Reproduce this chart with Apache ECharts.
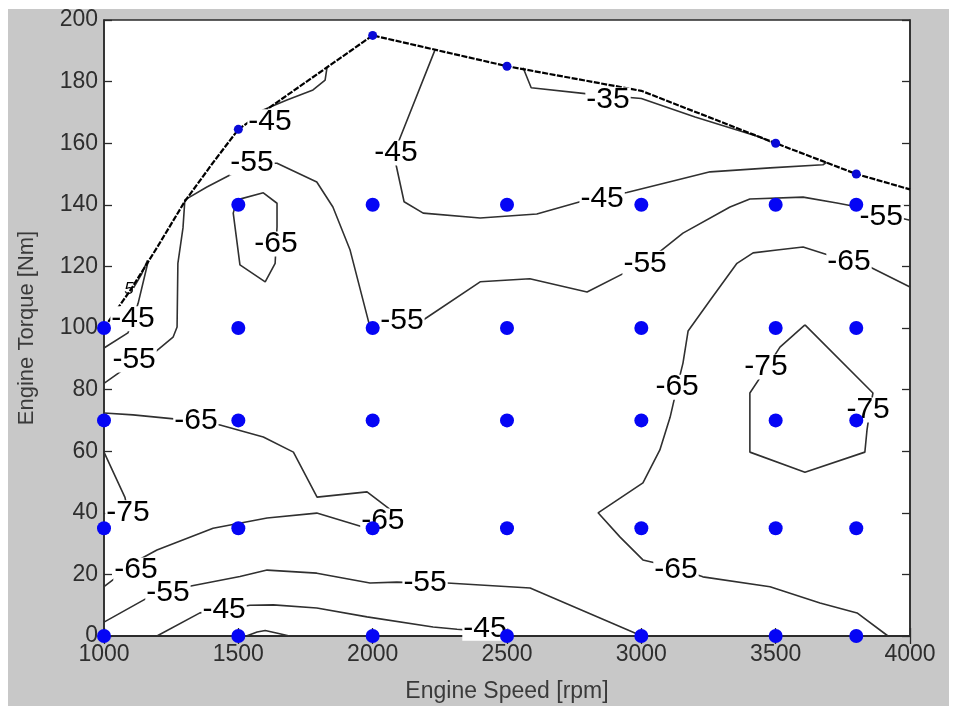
<!DOCTYPE html>
<html>
<head>
<meta charset="utf-8">
<script src="https://cdn.jsdelivr.net/npm/echarts@6/dist/echarts.min.js"></script>
<style>
  html, body { margin: 0; padding: 0; background: #ffffff; }
  #wrap { position: relative; width: 957px; height: 714px; }
  #bg { position: absolute; left: 8px; top: 9px; width: 941px; height: 697px; background: #c8c8c8; }
  #chart { position: absolute; left: 0; top: 0; width: 957px; height: 714px; }
</style>
</head>
<body>
<div id="wrap"><div id="bg"></div><div id="chart"></div></div>
<script>
// ---- axis ticks ----
const xTicks = [1000, 1500, 2000, 2500, 3000, 3500, 4000];
const yTicks = [0, 20, 40, 60, 80, 100, 120, 140, 160, 180, 200];

// ---- measurement points (rpm, torque) ----
const gridDots = [
  [1000,0],[1000,35],[1000,70],[1000,100],
  [1500,0],[1500,35],[1500,70],[1500,100],[1500,140],
  [2000,0],[2000,35],[2000,70],[2000,100],[2000,140],
  [2500,0],[2500,35],[2500,70],[2500,100],[2500,140],
  [3000,0],[3000,35],[3000,70],[3000,100],[3000,140],
  [3500,0],[3500,35],[3500,70],[3500,100],[3500,140],
  [3800,0],[3800,35],[3800,70],[3800,100],[3800,140]
];
const edgeDots = [[1500,164.5],[2000,195],[2500,185],[3500,160],[3800,150]];

// ---- full-load boundary ----
const boundary = [[1000,100],[1100,112.5],[1200,126.5],[1300,141],[1400,153],[1500,164.5],
  [2000,195],[2500,185],[3000,177],[3500,160],[3800,150],[4000,145]];

// ---- contour lines (rpm, torque) ----
const c35top = [[2560,184.5],[2590,178],[2800,176],[3000,174.5],[3200,168.5],[3440,162],[3480,160.5]];
const c45top = [[2232,190.3],[2094,160],[2087,153],[2117,141],[2188,137.3],[2400,135.7],[2611,137],
  [2772,141],[2857,142.5],[2946,144],[3107,147.5],[3256,150.7],[3479,152],[3676,153],[3690,153.8]];
const c45sliver = [[1830,184.5],[1823,180.5],[1778,177.3],[1681,174],[1592,170.8],[1550,168]];
const c45left = [[1000,93.5],[1089,98.4],[1108,103],[1127,108],[1164,121.5]];
const c35left = [[1162,122],[1140,117.5],[1110,113]];
const c55main = [[1000,82],[1097,88],[1190,92.2],[1257,97],[1272,100.3],[1275,121],[1294,132.5],
  [1301,141.6],[1383,145.8],[1469,149.7],[1555,153.5],[1644,153.5],[1792,147.4],[1852,139.3],
  [1916,125.3],[1990,100.3],[2000,100],[2110,101],[2188,102.6],[2400,115],[2585,116],[2798,111.7],
  [2958,118.8],[3014,121],[3155,130.8],[3330,139.3],[3404,141.9],[3602,142.5],[3728,140.6],
  [3806,139.3],[3900,137],[4000,135]];
const c65loop = [[1495,141.6],[1593,143.9],[1644,140.5],[1644,132.8],[1637,121],[1600,115],
  [1506,120.5],[1481,137.3],[1495,141.6]];
const c65right = [[4000,113.3],[3851,119.8],[3777,121.4],[3602,126.3],[3505,125.3],[3416,124.4],
  [3356,121],[3256,109],[3174,99],[3155,88.6],[3133,80.8],[3107,71],[3069,60.4],[3006,49.7],
  [2839,40],[2921,32.1],[3006,24.7],[3136,22],[3229,19.2],[3479,16],[3665,10.7],[3803,7.5],[3918,0]];
const c75right = [[3609,101],[3862,78.9],[3851,73.4],[3840,66.9],[3832,59.7],[3609,53.2],
  [3404,59.7],[3404,78.9],[3468,87.3],[3516,93.8],[3609,101]];
const c65left = [[1000,72.4],[1108,71.8],[1260,70.5],[1342,69.8],[1432,68.5],[1593,64.6],[1705,59.7],
  [1793,45.1],[1979,46.8],[2083,39.9],[2040,37],[1964,35.4],[1792,39.9],[1607,38.3],[1406,35],
  [1197,27.9],[1108,23.7],[1060,20],[1000,16]];
const c75left = [[1000,59.7],[1078,45],[1090,40],[1060,38.5]];
const c55bottom = [[1000,4.5],[1160,12.3],[1238,14.3],[1309,16],[1506,19.3],[1607,21.4],[1792,20.4],
  [1990,17.2],[2090,17.5],[2195,17.2],[2277,17.2],[2586,15.6],[3002,0]];
const c45bottom = [[1197,0],[1357,7.5],[1447,8.4],[1543,10],[1630,10.1],[1792,9.1],[1979,6.2],
  [2225,2.9],[2314,2.2],[2420,1.5],[2480,0]];
const cHump = [[1530,0],[1570,1.3],[1600,1.8],[1650,0.8],[1690,0]];

// ---- contour labels (rpm, torque, text) ----
const contourLabels = [
  [1618,167,'-45'],[2087,156.8,'-45'],[2876,174,'-35'],[1551,153.6,'-55'],[1640,127.3,'-65'],
  [2854,141.9,'-45'],[3893,136,'-55'],[3014,121,'-55'],[3773,121.4,'-65'],
  [1108,103,'-45'],[2109,102.3,'-55'],[1112,89.6,'-55'],[3464,87.3,'-75'],[3133,80.8,'-65'],
  [3844,73.4,'-75'],[1342,69.8,'-65'],[1089,40,'-75'],[2038,37.3,'-65'],[1119,21.4,'-65'],
  [2195,17.2,'-55'],[3129,21.4,'-65'],[1238,14,'-55'],[1447,8.4,'-45'],[2418,2.5,'-45']
];
const clippedLabels = [[1093,112.5,'5']];

const lineColor = '#303030';
const contours = [c35top, c45top, c45sliver, c45left, c35left, c55main, c65loop, c65right,
  c75right, c65left, c75left, c55bottom, c45bottom, cHump];

const font = "'Liberation Sans', Arial, sans-serif";
const chart = echarts.init(document.getElementById('chart'), null, {renderer: 'canvas'});

const series = [];
contours.forEach(function (c) {
  series.push({
    type: 'line', data: c, symbol: 'none', smooth: false, silent: true, z: 2,
    lineStyle: {color: lineColor, width: 1.6}
  });
});
series.push({
  type: 'line', data: boundary, symbol: 'none', silent: true, z: 3,
  lineStyle: {color: '#000', width: 2.2, type: [6, 1.5]}
});
series.push({
  type: 'scatter', data: contourLabels, symbolSize: 1, silent: true, z: 4,
  itemStyle: {color: 'rgba(0,0,0,0)', opacity: 1},
  label: {
    show: true, position: 'inside', formatter: function (p) { return p.data[2]; },
    fontSize: 30, fontFamily: font, color: '#000', backgroundColor: '#fff',
    textBorderWidth: 0, padding: [0, 1], lineHeight: 25
  }
});
series.push({
  type: 'scatter', data: clippedLabels, symbolSize: 1, silent: true, z: 4,
  itemStyle: {color: 'rgba(0,0,0,0)', opacity: 1},
  label: {
    show: true, position: 'inside', formatter: function (p) { return p.data[2]; },
    fontSize: 17, fontFamily: font, color: '#000', textBorderWidth: 0, fontStyle: 'italic'
  }
});
series.push({
  type: 'scatter', data: gridDots, symbolSize: 14, silent: true, z: 6,
  itemStyle: {color: '#0505f5', opacity: 1}
});
series.push({
  type: 'scatter', data: edgeDots, symbolSize: 9, silent: true, z: 6,
  itemStyle: {color: '#0a0ad8', opacity: 1}
});

const axisCommon = {
  min: 1000, max: 4000, interval: 500,
  axisLine: {lineStyle: {color: '#2a2a2a', width: 1.5}},
  axisTick: {inside: true, length: 8, lineStyle: {color: '#2a2a2a', width: 1.3}},
  splitLine: {show: false}
};

chart.setOption({
  backgroundColor: 'transparent',
  animation: false,
  grid: {left: 104, right: 47, top: 20, bottom: 78, show: true, backgroundColor: '#fff',
    borderColor: '#2a2a2a', borderWidth: 1.5},
  xAxis: [
    Object.assign({}, axisCommon, {
      type: 'value', position: 'bottom',
      axisLabel: {fontSize: 23, fontFamily: font, color: '#2e2e2e', margin: 7,
        formatter: function (v) { return xTicks.indexOf(v) >= 0 ? String(v) : ''; }},
      name: 'Engine Speed [rpm]', nameLocation: 'middle', nameGap: 44,
      nameTextStyle: {fontSize: 23, fontFamily: font, color: '#3a3a3a'}
    }),
    Object.assign({}, axisCommon, {
      type: 'value', position: 'top', axisLabel: {show: false}
    })
  ],
  yAxis: [
    {
      type: 'value', min: 0, max: 200, interval: 20, position: 'left',
      axisLine: {show: true, lineStyle: {color: '#2a2a2a', width: 1.5}},
      axisTick: {show: true, inside: true, length: 8, lineStyle: {color: '#2a2a2a', width: 1.3}},
      splitLine: {show: false},
      axisLabel: {fontSize: 23, fontFamily: font, color: '#2e2e2e', margin: 6,
        formatter: function (v) { return yTicks.indexOf(v) >= 0 ? String(v) : ''; }},
      name: 'Engine Torque [Nm]', nameLocation: 'middle', nameGap: 66, nameRotate: 90,
      nameTextStyle: {fontSize: 22, fontFamily: font, color: '#3a3a3a'}
    },
    {
      type: 'value', min: 0, max: 200, interval: 20, position: 'right',
      axisLine: {show: true, lineStyle: {color: '#2a2a2a', width: 1.5}},
      axisTick: {show: true, inside: true, length: 8, lineStyle: {color: '#2a2a2a', width: 1.3}},
      splitLine: {show: false}, axisLabel: {show: false}
    }
  ],
  series: series
});
</script>
</body>
</html>
